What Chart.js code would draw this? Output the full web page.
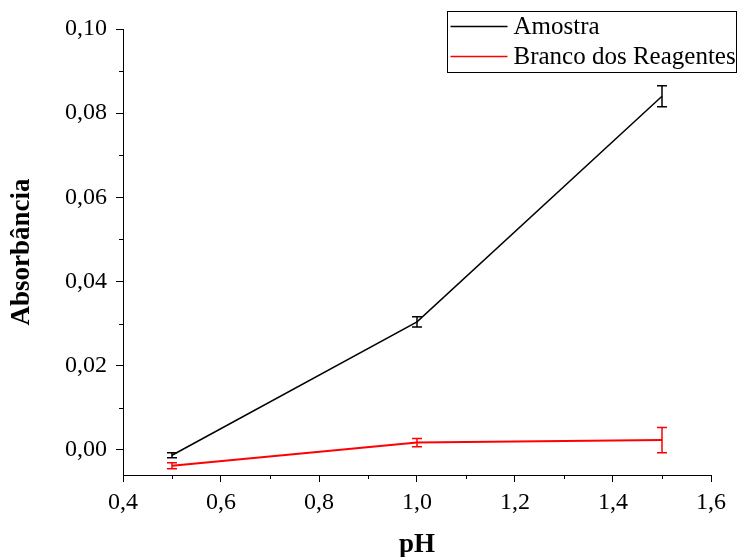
<!DOCTYPE html>
<html>
<head>
<meta charset="utf-8">
<script src="https://cdn.jsdelivr.net/npm/chart.js@4.4.0/dist/chart.umd.min.js"></script>
<style>
  html, body { margin: 0; padding: 0; background: #fff; }
  #wrap { width: 738px; height: 557px; }
</style>
</head>
<body>
<div id="wrap"><canvas id="chart" width="738" height="557"></canvas></div>
<script>
// data
const phValues = [0.5, 1.0, 1.5];
const amostra = [-0.0013, 0.0304, 0.0840];
const amostraErr = [0.0006, 0.0012, 0.0025];
const branco = [-0.0038, 0.0017, 0.0023];
const brancoErr = [0.0007, 0.0010, 0.0030];
const xTicks = [0.4, 0.6, 0.8, 1.0, 1.2, 1.4, 1.6];
const yTicks = [0.00, 0.02, 0.04, 0.06, 0.08, 0.10];

const FONT = "'Liberation Serif', 'Times New Roman', serif";

const toPts = (ys) => ys.map((y, i) => ({ x: phValues[i], y: y }));

// error bars drawn through the scales
const errorBars = {
    id: 'errorBars',
    afterDatasetsDraw(chart) {
        const { ctx, scales: { x, y } } = chart;
        chart.data.datasets.forEach(ds => {
            ctx.save();
            ctx.strokeStyle = ds.borderColor;
            ctx.lineWidth = 1.5;
            ds.data.forEach((p, i) => {
                const e = ds.errors[i];
                const px = x.getPixelForValue(p.x);
                const top = y.getPixelForValue(p.y + e);
                const bot = y.getPixelForValue(p.y - e);
                ctx.beginPath();
                ctx.moveTo(px, top); ctx.lineTo(px, bot);
                ctx.moveTo(px - 5, top); ctx.lineTo(px + 5, top);
                ctx.moveTo(px - 5, bot); ctx.lineTo(px + 5, bot);
                ctx.stroke();
            });
            ctx.restore();
        });
    }
};

// minor ticks halfway between major ones
const minorTicks = {
    id: 'minorTicks',
    afterDraw(chart) {
        const { ctx, scales: { x, y }, chartArea } = chart;
        ctx.save();
        ctx.strokeStyle = '#000';
        ctx.lineWidth = 1;
        for (let i = 0; i < xTicks.length - 1; i++) {
            const px = Math.round(x.getPixelForValue((xTicks[i] + xTicks[i + 1]) / 2)) + 0.5;
            ctx.beginPath();
            ctx.moveTo(px, chartArea.bottom); ctx.lineTo(px, chartArea.bottom + 4);
            ctx.stroke();
        }
        const yMinor = yTicks.slice(0, -1).map((v, i) => (v + yTicks[i + 1]) / 2);
        yMinor.forEach(v => {
            const py = Math.round(y.getPixelForValue(v)) + 0.5;
            ctx.beginPath();
            ctx.moveTo(chartArea.left, py); ctx.lineTo(chartArea.left - 4, py);
            ctx.stroke();
        });
        ctx.restore();
    }
};

// boxed legend in the top right corner
const boxLegend = {
    id: 'boxLegend',
    afterDraw(chart) {
        const ctx = chart.ctx;
        const left = 447.5, top = 11.5, w = 289, h = 61;
        ctx.save();
        ctx.strokeStyle = '#000';
        ctx.lineWidth = 1;
        ctx.strokeRect(left, top, w, h);
        ctx.font = '25px ' + FONT;
        ctx.textBaseline = 'middle';
        chart.data.datasets.forEach((ds, i) => {
            const cy = top + 15 + i * 30;
            ctx.strokeStyle = ds.borderColor;
            ctx.lineWidth = 1.5;
            ctx.beginPath();
            ctx.moveTo(left + 3, cy); ctx.lineTo(left + 60, cy);
            ctx.stroke();
            ctx.fillStyle = '#000';
            ctx.fillText(ds.label, left + 66, cy + 1);
        });
        ctx.restore();
    }
};

const ctx = document.getElementById('chart').getContext('2d');

new Chart(ctx, {
    type: 'line',
    data: {
        datasets: [{
            label: 'Amostra',
            data: toPts(amostra),
            errors: amostraErr,
            borderColor: '#000000',
            borderWidth: 1.5,
            pointRadius: 0,
            tension: 0
        }, {
            label: 'Branco dos Reagentes',
            data: toPts(branco),
            errors: brancoErr,
            borderColor: '#ff0000',
            borderWidth: 2,
            pointRadius: 0,
            tension: 0
        }]
    },
    options: {
        responsive: false,
        animation: false,
        layout: { padding: { top: 29, right: 27, left: 0, bottom: 0 } },
        plugins: {
            legend: { display: false },
            tooltip: { enabled: false }
        },
        scales: {
            x: {
                type: 'linear',
                min: 0.4,
                max: 1.6,
                afterBuildTicks: s => { s.ticks = xTicks.map(v => ({ value: v })); },
                afterFit: s => { s.height = 82; },
                grid: { drawOnChartArea: false, drawTicks: true, tickLength: 7, color: '#000' },
                border: { color: '#000', width: 1 },
                ticks: {
                    color: '#000',
                    padding: 6,
                    font: { family: FONT, size: 24 },
                    callback: v => v.toFixed(1).replace('.', ',')
                },
                title: {
                    display: true,
                    text: 'pH',
                    color: '#000',
                    padding: { top: 0, bottom: -4 },
                    font: { family: FONT, size: 27, weight: 'bold' }
                }
            },
            y: {
                type: 'linear',
                min: -0.006,
                max: 0.10,
                afterBuildTicks: s => { s.ticks = yTicks.map(v => ({ value: v })); },
                afterFit: s => { s.width = 123; },
                grid: { drawOnChartArea: false, drawTicks: true, tickLength: 7, color: '#000' },
                border: { color: '#000', width: 1 },
                ticks: {
                    color: '#000',
                    padding: 9,
                    font: { family: FONT, size: 24 },
                    callback: v => v.toFixed(2).replace('.', ',')
                },
                title: {
                    display: true,
                    text: 'Absorbância',
                    color: '#000',
                    padding: { top: 6, bottom: 0 },
                    font: { family: FONT, size: 27, weight: 'bold' }
                }
            }
        }
    },
    plugins: [errorBars, minorTicks, boxLegend]
});
</script>
</body>
</html>
